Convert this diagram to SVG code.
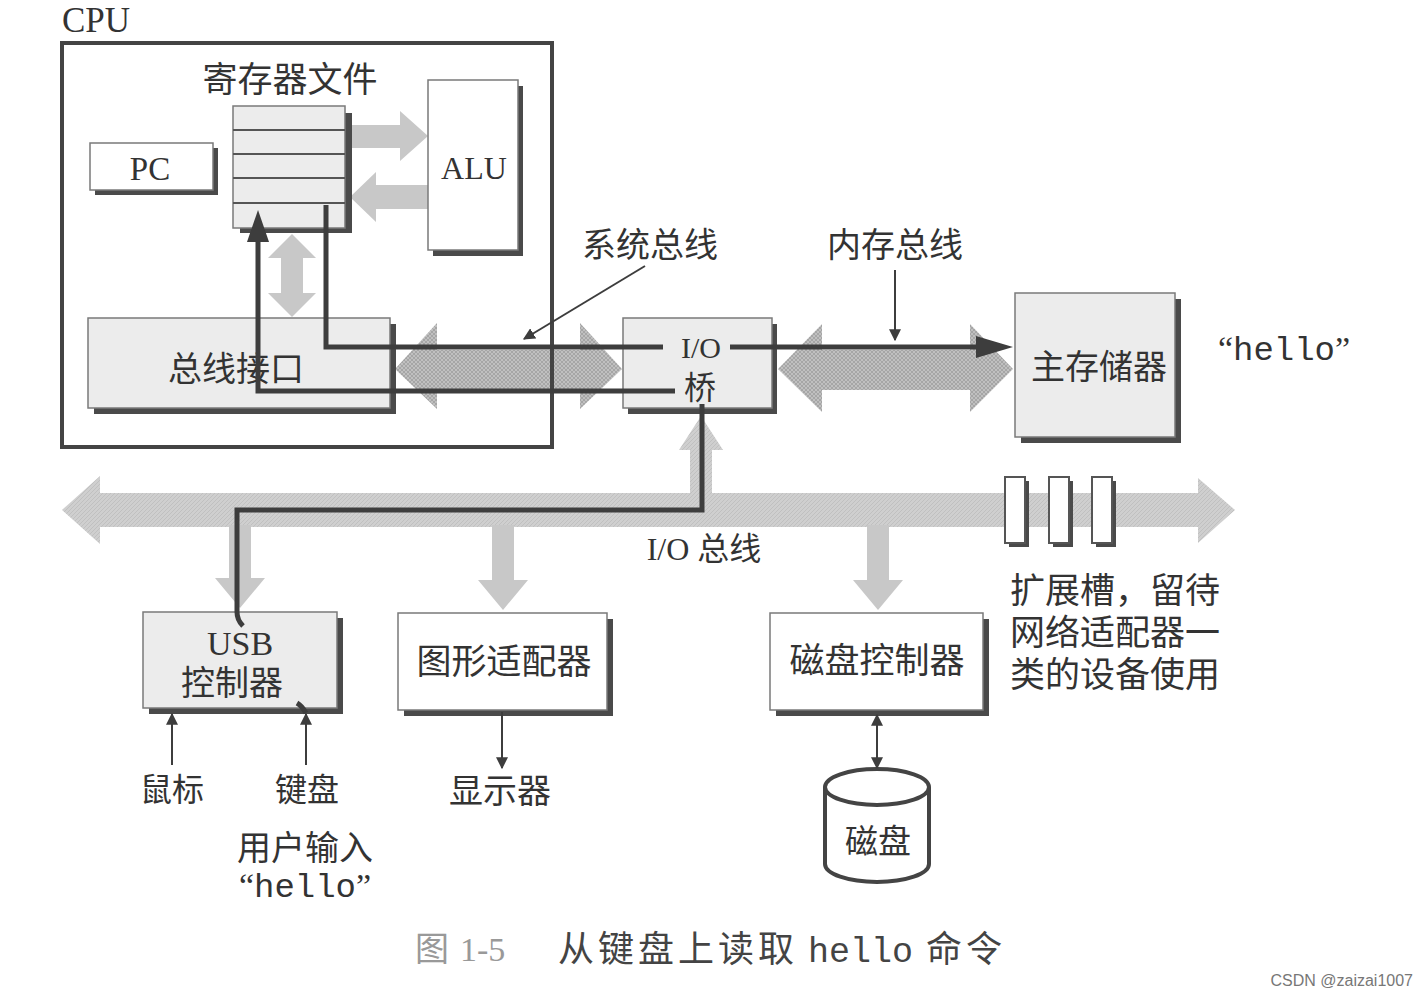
<svg xmlns="http://www.w3.org/2000/svg" width="1428" height="995" viewBox="0 0 1428 995">
<style>
.cj{font-family:"Noto Sans CJK SC","Noto Sans",sans-serif;fill:#333}
.sf{font-family:"Liberation Serif","DejaVu Serif",serif;fill:#333}
.mo{font-family:"Liberation Mono","DejaVu Sans Mono",monospace;fill:#333}
.box{stroke:#7a7a7a;stroke-width:1.5}
.sh{fill:#4a4a4a}
.lt{fill:#ececec}
.wh{fill:#ffffff}
.gray{fill:#c8c8c8}
.tex{fill:url(#hatch)}
.tex2{fill:url(#hatch2)}
.dk{stroke:#3d3d3d;stroke-width:5;fill:none}
.thin{stroke:#3d3d3d;stroke-width:2;fill:none}
.head{fill:#3d3d3d}
.row{stroke:#555;stroke-width:2}
</style>
<defs>
<pattern id="hatch" width="4" height="4" patternUnits="userSpaceOnUse">
<rect width="4" height="4" fill="#c0c0c0"/>
<path d="M0,4 L4,0 M0,0 L4,4" stroke="#a0a0a0" stroke-width="0.8"/>
</pattern>
<pattern id="hatch2" width="4" height="4" patternUnits="userSpaceOnUse">
<rect width="4" height="4" fill="#cfcfcf"/>
<path d="M0,4 L4,0" stroke="#bdbdbd" stroke-width="0.8"/>
</pattern>
<marker id="ah" viewBox="0 0 10 10" refX="9" refY="5" markerWidth="12" markerHeight="12" markerUnits="userSpaceOnUse" orient="auto-start-reverse">
<path d="M0,0 L10,5 L0,10 z" fill="#3d3d3d"/>
</marker>
</defs>
<rect width="1428" height="995" fill="#ffffff"/>

<g id="buses">
<path class="gray" d="M352,125 H400 V111 L428,136 L400,161 V148 H352 Z"/>
<path class="gray" d="M428,185 H376 V172 L350,197 L376,222 V209 H428 Z"/>
<path class="gray" d="M292,234 L316,258 H303 V293 H316 L292,317 L268,293 H281 V258 H268 Z"/>
<path class="tex" d="M395,369 L437,323 V350 H580 V323 L622,369 L580,409 V390 H437 V409 Z"/>
<path class="tex" d="M778,369 L822,324 V350 H970 V324 L1013,369 L970,412 V390 H822 V412 Z"/>
<path class="tex2" d="M701,416 L723,450 H712 V495 H690 V450 H679 Z"/>
<path class="tex2" d="M62,510 L100,476 V493 H1198 V478 L1235,510 L1198,543 V527 H100 V544 Z"/>
<path class="gray" d="M229,525 H251 V578 H265 L240,608 L215,578 H229 Z"/>
<path class="gray" d="M492,525 H514 V580 H528 L503,610 L478,580 H492 Z"/>
<path class="gray" d="M867,525 H889 V580 H903 L878,610 L853,580 H867 Z"/>
</g>

<g id="cpu">
<rect x="62" y="43" width="490" height="404" fill="none" stroke="#444" stroke-width="4"/>
<text class="sf" x="62" y="32" font-size="35">CPU</text>
</g>

<g id="regfile">
<text class="cj" x="290" y="92" font-size="35" text-anchor="middle">寄存器文件</text>
<rect class="sh" x="240" y="113" width="112" height="120"/>
<rect class="box lt" x="233" y="106" width="112" height="122"/>
<line class="row" x1="233" y1="130" x2="345" y2="130"/>
<line class="row" x1="233" y1="154" x2="345" y2="154"/>
<line class="row" x1="233" y1="178" x2="345" y2="178"/>
<line class="row" x1="233" y1="203" x2="345" y2="203"/>
</g>

<g id="pc">
<rect class="sh" x="95" y="148" width="123" height="47"/>
<rect class="box wh" x="90" y="143" width="123" height="47"/>
<text class="sf" x="150" y="180" font-size="33" text-anchor="middle">PC</text>
</g>

<g id="alu">
<rect class="sh" x="433" y="86" width="90" height="170"/>
<rect class="box wh" x="428" y="80" width="90" height="170"/>
<text class="sf" x="474" y="179" font-size="32" text-anchor="middle">ALU</text>
</g>

<g id="businterface">
<rect class="sh" x="94" y="324" width="302" height="90"/>
<rect class="box lt" x="88" y="318" width="302" height="90"/>
<text class="cj" x="236" y="381" font-size="34" text-anchor="middle">总线接口</text>
</g>

<g id="iobridge">
<rect class="sh" x="628" y="324" width="149" height="90"/>
<rect class="box lt" x="623" y="318" width="149" height="90"/>
<text class="sf" x="701" y="358" font-size="30" text-anchor="middle">I/O</text>
<text class="cj" x="700" y="399" font-size="32" text-anchor="middle">桥</text>
</g>

<g id="mainmemory">
<rect class="sh" x="1021" y="299" width="160" height="144"/>
<rect class="box lt" x="1015" y="293" width="160" height="144"/>
<text class="cj" x="1099" y="379" font-size="34" text-anchor="middle">主存储器</text>
<text x="1284" y="360" text-anchor="middle" font-size="34"><tspan class="sf">“</tspan><tspan class="mo">hello</tspan><tspan class="sf">”</tspan></text>
</g>

<g id="labels">
<text class="cj" x="650" y="257" font-size="34" text-anchor="middle">系统总线</text>
<text class="cj" x="895" y="257" font-size="34" text-anchor="middle">内存总线</text>
<text x="704" y="560" text-anchor="middle" font-size="32"><tspan class="sf">I/O </tspan><tspan class="cj">总线</tspan></text>
</g>

<g id="slots">
<rect class="sh" x="1009" y="481" width="20" height="66"/>
<rect x="1005" y="477" width="20" height="66" fill="#fff" stroke="#555" stroke-width="2"/>
<rect class="sh" x="1053" y="481" width="20" height="66"/>
<rect x="1049" y="477" width="20" height="66" fill="#fff" stroke="#555" stroke-width="2"/>
<rect class="sh" x="1096" y="481" width="20" height="66"/>
<rect x="1092" y="477" width="20" height="66" fill="#fff" stroke="#555" stroke-width="2"/>
<text class="cj" font-size="35"><tspan x="1010" y="603">扩展槽，留待</tspan><tspan x="1010" y="645">网络适配器一</tspan><tspan x="1010" y="687">类的设备使用</tspan></text>
</g>

<g id="usb">
<rect class="sh" x="149" y="618" width="194" height="96"/>
<rect class="box lt" x="143" y="612" width="194" height="96"/>
<text class="sf" x="240" y="655" font-size="34" text-anchor="middle">USB</text>
<text class="cj" x="232" y="695" font-size="34" text-anchor="middle">控制器</text>
</g>

<g id="graphics">
<rect class="sh" x="404" y="619" width="209" height="97"/>
<rect class="box wh" x="398" y="613" width="209" height="97"/>
<text class="cj" x="504" y="674" font-size="35" text-anchor="middle">图形适配器</text>
</g>

<g id="diskctrl">
<rect class="sh" x="776" y="619" width="213" height="97"/>
<rect class="box wh" x="770" y="613" width="213" height="97"/>
<text class="cj" x="877" y="673" font-size="35" text-anchor="middle">磁盘控制器</text>
</g>

<g id="disk">
<path d="M825,787 V864 A52,18 0 0 0 929,864 V787" fill="#fff" stroke="#444" stroke-width="4"/>
<ellipse cx="877" cy="787" rx="52" ry="18" fill="#fff" stroke="#444" stroke-width="4"/>
<text class="cj" x="878" y="853" font-size="33" text-anchor="middle">磁盘</text>
</g>

<g id="devices">
<text class="cj" x="172" y="801" font-size="32" text-anchor="middle">鼠标</text>
<text class="cj" x="307" y="801" font-size="32" text-anchor="middle">键盘</text>
<text class="cj" x="305" y="860" font-size="34" text-anchor="middle">用户输入</text>
<text x="305" y="897" text-anchor="middle" font-size="34"><tspan class="sf">“</tspan><tspan class="mo">hello</tspan><tspan class="sf">”</tspan></text>
<text class="cj" x="500" y="803" font-size="34" text-anchor="middle">显示器</text>
</g>

<g id="connectors">
<polyline class="dk" points="675,391 258,391 258,238"/>
<path class="head" d="M258,210 L269,242 L247,242 Z"/>
<polyline class="dk" points="326,205 326,347 663,347"/>
<line class="dk" x1="730" y1="347" x2="980" y2="347"/>
<path class="head" d="M1013,347 L976,336 L976,358 Z"/>
<path class="dk" d="M702,404 V510 H237 V612 Q237,620 243,626"/>
<path class="dk" stroke-width="4" d="M297,703 Q302,706 306,713"/>
<line class="thin" x1="645" y1="266" x2="524" y2="339" marker-end="url(#ah)"/>
<line class="thin" x1="895" y1="270" x2="895" y2="340" marker-end="url(#ah)"/>
<line class="thin" x1="172" y1="765" x2="172" y2="714" marker-end="url(#ah)"/>
<line class="thin" x1="306" y1="765" x2="306" y2="714" marker-end="url(#ah)"/>
<line class="thin" x1="502" y1="712" x2="502" y2="768" marker-end="url(#ah)"/>
<line class="thin" x1="877" y1="715" x2="877" y2="768" marker-start="url(#ah)" marker-end="url(#ah)"/>
</g>

<g id="caption">
<text y="961" font-size="34"><tspan class="cj" x="415" style="fill:#999">图</tspan><tspan class="sf" x="460" style="fill:#999">1-5</tspan></text>
<text y="962" font-size="36" letter-spacing="4" class="cj" style="fill:#444"><tspan x="558">从键盘上读取</tspan><tspan x="926">命令</tspan></text>
<text class="mo" x="808" y="962" font-size="35" style="fill:#444">hello</text>
<text x="1413" y="986" font-size="16" text-anchor="end" style="font-family:'Liberation Sans',sans-serif;fill:#777">CSDN @zaizai1007</text>
</g>
</svg>
